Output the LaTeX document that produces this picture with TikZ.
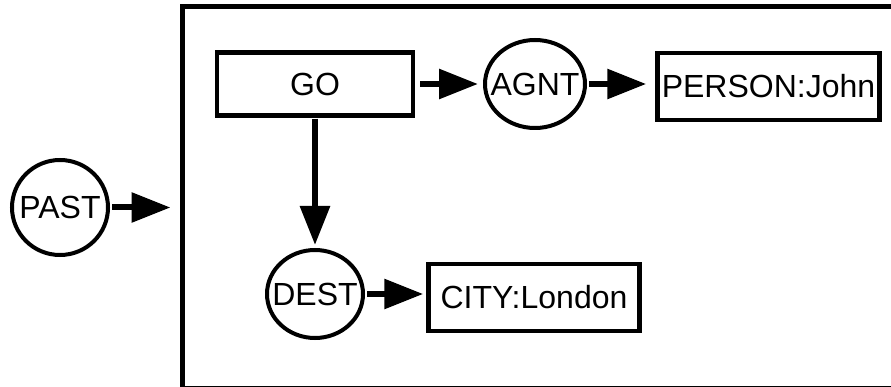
\documentclass[tikz,border=0pt]{standalone}
\usepackage{fontspec}
\setmainfont{Liberation Sans}
\usetikzlibrary{arrows.meta,shapes.geometric}

\begin{document}
\begin{tikzpicture}[x=1pt,y=-1pt,
    concept/.style={draw,rectangle,line width=4.5pt,inner sep=0pt},
    relation/.style={draw,ellipse,line width=4pt,inner sep=0pt},
    link/.style={line width=6pt,-{Triangle[length=39pt,width=29pt]}}]
    \useasboundingbox (0,0) rectangle (891,387);
    \begin{scope}[font=\fontsize{32}{38}\selectfont]

    % context box
    \node [draw,line width=5pt,inner sep=0pt,minimum width=712pt,minimum height=381pt] (ctx) at (538.5,197.5) {};

    \node [relation,minimum width=96pt,minimum height=95pt] (past) at (60,207.5) {\makebox[0pt]{PAST}};

    \node [concept,minimum width=196pt,minimum height=63pt] (go) at (315,84) {GO};
    \node [relation,minimum width=100pt,minimum height=88pt] (agnt) at (535,84) {\makebox[0pt]{AGNT}};
    \node [concept,minimum width=222pt,minimum height=67pt] (person) at (768.5,86.5) {PERSON:John};

    \node [relation,minimum width=96pt,minimum height=88pt] (dest) at (315,294) {\makebox[0pt]{DEST}};
    \node [concept,minimum width=211pt,minimum height=67pt] (city) at (534,297.5) {CITY:London};

    \draw [link,shorten <=2pt,shorten >=9.5pt] (past) -- (past -| ctx.west);
    \draw [link,shorten <=5pt,shorten >=5pt] (go) -- (agnt);
    \draw [link,shorten <=2pt,shorten >=9pt] (agnt) -- (agnt -| person.west);
    \draw [link,shorten <=1pt,shorten >=3pt] (go) -- (dest);
    \draw [link,shorten <=2pt,shorten >=3pt] (dest) -- (dest -| city.west);
\end{scope}
\end{tikzpicture}
\end{document}
